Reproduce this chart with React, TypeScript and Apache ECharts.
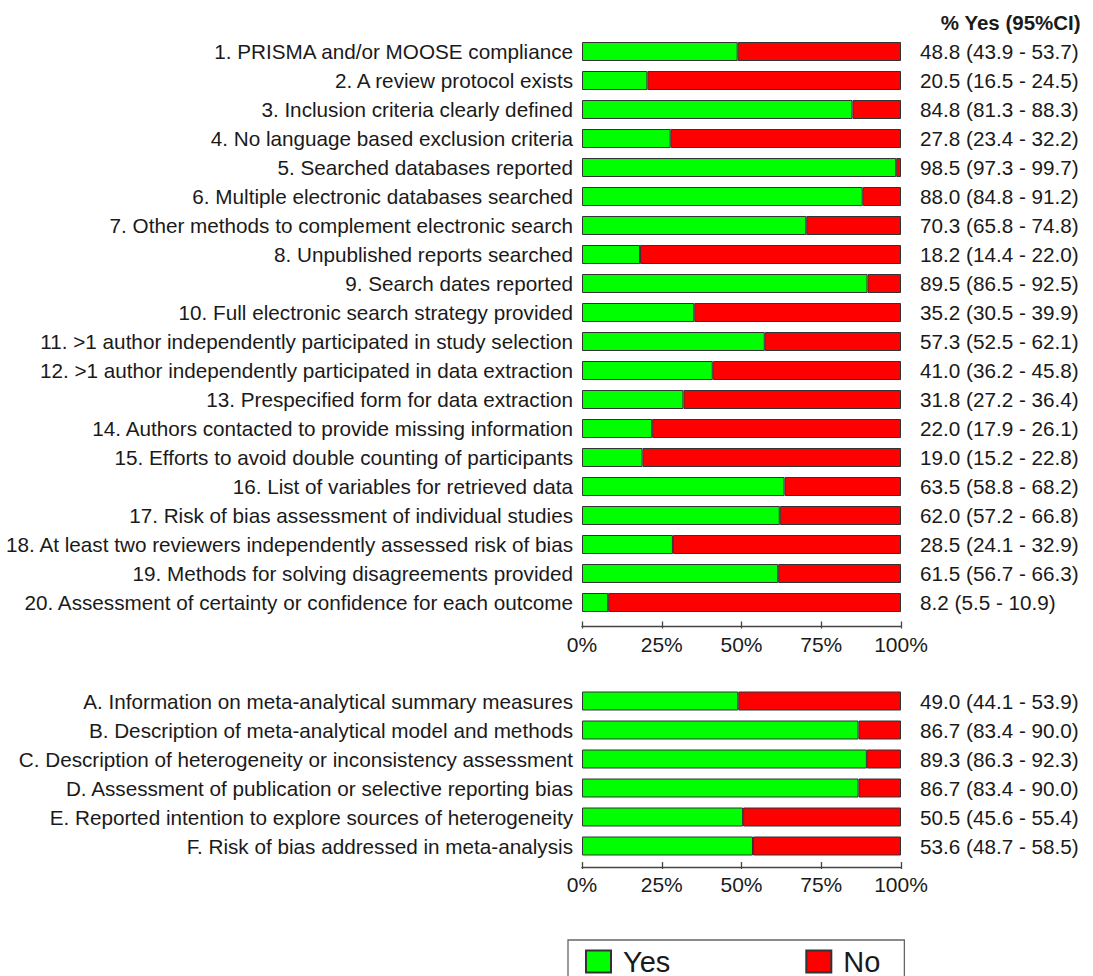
import React, { useEffect, useRef } from "react";
import * as echarts from "echarts";

const itemsTop = [
  "1. PRISMA and/or MOOSE compliance",
  "2. A review protocol exists",
  "3. Inclusion criteria clearly defined",
  "4. No language based exclusion criteria",
  "5. Searched databases reported",
  "6. Multiple electronic databases searched",
  "7. Other methods to complement electronic search",
  "8. Unpublished reports searched",
  "9. Search dates reported",
  "10. Full electronic search strategy provided",
  "11. >1 author independently participated in study selection",
  "12. >1 author independently participated in data extraction",
  "13. Prespecified form for data extraction",
  "14. Authors contacted to provide missing information",
  "15. Efforts to avoid double counting of participants",
  "16. List of variables for retrieved data",
  "17. Risk of bias assessment of individual studies",
  "18. At least two reviewers independently assessed risk of bias",
  "19. Methods for solving disagreements provided",
  "20. Assessment of certainty or confidence for each outcome",
];
const yesTop = [48.8, 20.5, 84.8, 27.8, 98.5, 88.0, 70.3, 18.2, 89.5, 35.2, 57.3, 41.0, 31.8, 22.0, 19.0, 63.5, 62.0, 28.5, 61.5, 8.2];
const lowTop = [43.9, 16.5, 81.3, 23.4, 97.3, 84.8, 65.8, 14.4, 86.5, 30.5, 52.5, 36.2, 27.2, 17.9, 15.2, 58.8, 57.2, 24.1, 56.7, 5.5];
const highTop = [53.7, 24.5, 88.3, 32.2, 99.7, 91.2, 74.8, 22.0, 92.5, 39.9, 62.1, 45.8, 36.4, 26.1, 22.8, 68.2, 66.8, 32.9, 66.3, 10.9];

const itemsBottom = [
  "A. Information on meta-analytical summary measures",
  "B. Description of meta-analytical model and methods",
  "C. Description of heterogeneity or inconsistency assessment",
  "D. Assessment of publication or selective reporting bias",
  "E. Reported intention to explore sources of heterogeneity",
  "F. Risk of bias addressed in meta-analysis",
];
const yesBottom = [49.0, 86.7, 89.3, 86.7, 50.5, 53.6];
const lowBottom = [44.1, 83.4, 86.3, 83.4, 45.6, 48.7];
const highBottom = [53.9, 90.0, 92.3, 90.0, 55.4, 58.5];

const xTicks = [0, 25, 50, 75, 100];
const headerText = "% Yes (95%CI)";
const legendNames = ["Yes", "No"];

const FONT = "'Liberation Sans', Arial, sans-serif";
const TEXT = "#1a1a1a";
const GREEN = "#00ff00";
const RED = "#ff0000";
const BORDER = "#333333";
const LABEL_SIZE = 20.7;

const fmt = (v: number) => v.toFixed(1);
const ciLabels = (y: number[], lo: number[], hi: number[]) =>
  y.map((v, i) => `${fmt(v)} (${fmt(lo[i])} - ${fmt(hi[i])})`);

export default function App() {
  const ref = useRef<HTMLDivElement>(null);
  useEffect(() => {
    if (!ref.current) return;
    const chart = echarts.init(ref.current, null, { renderer: "svg" });

    const grids = [
      { left: 582, width: 319, top: 37, height: 580 },
      { left: 582, width: 319, top: 686.5, height: 174 },
    ];
    const offsets = [9.5, 6.5];

    const xAxes: any[] = [];
    grids.forEach((_, gi) => {
      xAxes.push({
        type: "value",
        gridIndex: gi,
        min: 0,
        max: 100,
        interval: 25,
        position: "bottom",
        offset: offsets[gi],
        axisLine: { show: true, lineStyle: { color: "#444", width: 1.3 } },
        axisTick: { show: true, length: 2, lineStyle: { color: "#444", width: 1.3 } },
        splitLine: { show: false },
        axisLabel: {
          show: true,
          margin: 7,
          fontSize: 21,
          fontFamily: FONT,
          color: TEXT,
          formatter: (v: number) => (xTicks.includes(v) ? `${v}%` : ""),
        },
      });
      xAxes.push({
        type: "value",
        gridIndex: gi,
        min: 0,
        max: 100,
        interval: 25,
        position: "bottom",
        offset: offsets[gi],
        axisLine: { show: false },
        axisTick: { show: true, inside: true, length: 5, lineStyle: { color: "#444", width: 1.3 } },
        splitLine: { show: false },
        axisLabel: { show: false },
      });
    });

    const cats = [itemsTop, itemsBottom];
    const cis = [ciLabels(yesTop, lowTop, highTop), ciLabels(yesBottom, lowBottom, highBottom)];
    const yAxes: any[] = [];
    grids.forEach((_, gi) => {
      yAxes.push({
        type: "category",
        gridIndex: gi,
        data: cats[gi],
        inverse: true,
        position: "left",
        axisLine: { show: false },
        axisTick: { show: false },
        axisLabel: { margin: 9, fontSize: LABEL_SIZE, fontFamily: FONT, color: TEXT },
      });
      yAxes.push({
        type: "category",
        gridIndex: gi,
        data: cis[gi],
        inverse: true,
        position: "right",
        axisLine: { show: false },
        axisTick: { show: false },
        axisLabel: { margin: 19, fontSize: LABEL_SIZE, fontFamily: FONT, color: TEXT, align: "left" },
      });
    });

    const yesData = [yesTop, yesBottom];
    const series: any[] = [];
    grids.forEach((_, gi) => {
      series.push({
        name: legendNames[0],
        type: "bar",
        stack: "s" + gi,
        xAxisIndex: gi * 2,
        yAxisIndex: gi * 2,
        barWidth: 19,
        data: yesData[gi],
        itemStyle: { color: GREEN, borderColor: BORDER, borderWidth: 1 },
      });
      series.push({
        name: legendNames[1],
        type: "bar",
        stack: "s" + gi,
        xAxisIndex: gi * 2,
        yAxisIndex: gi * 2,
        barWidth: 19,
        data: yesData[gi].map((v) => +(100 - v).toFixed(1)),
        itemStyle: { color: RED, borderColor: BORDER, borderWidth: 1 },
      });
    });

    chart.setOption({
      animation: false,
      backgroundColor: "#ffffff",
      title: {
        text: headerText,
        right: 7,
        top: 7,
        textStyle: { fontSize: 20.5, fontWeight: "bold", fontFamily: FONT, color: TEXT },
      },
      legend: {
        data: legendNames,
        left: 568,
        top: 940,
        orient: "horizontal",
        padding: [7, 24, 12, 17],
        itemGap: 135,
        itemWidth: 25,
        itemHeight: 22,
        borderColor: "#666",
        borderWidth: 1.3,
        icon: "rect",
        selectedMode: false,
        textStyle: { fontSize: 29, fontFamily: FONT, color: TEXT, padding: [0, 0, 0, 7] },
      },
      grid: grids.map((g) => ({ ...g, containLabel: false })),
      xAxis: xAxes,
      yAxis: yAxes,
      series,
    });
    return () => chart.dispose();
  }, []);
  return (
    <div
      ref={ref}
      style={{ position: "absolute", left: 0, top: 0, width: 1093, height: 976 }}
    />
  );
}
